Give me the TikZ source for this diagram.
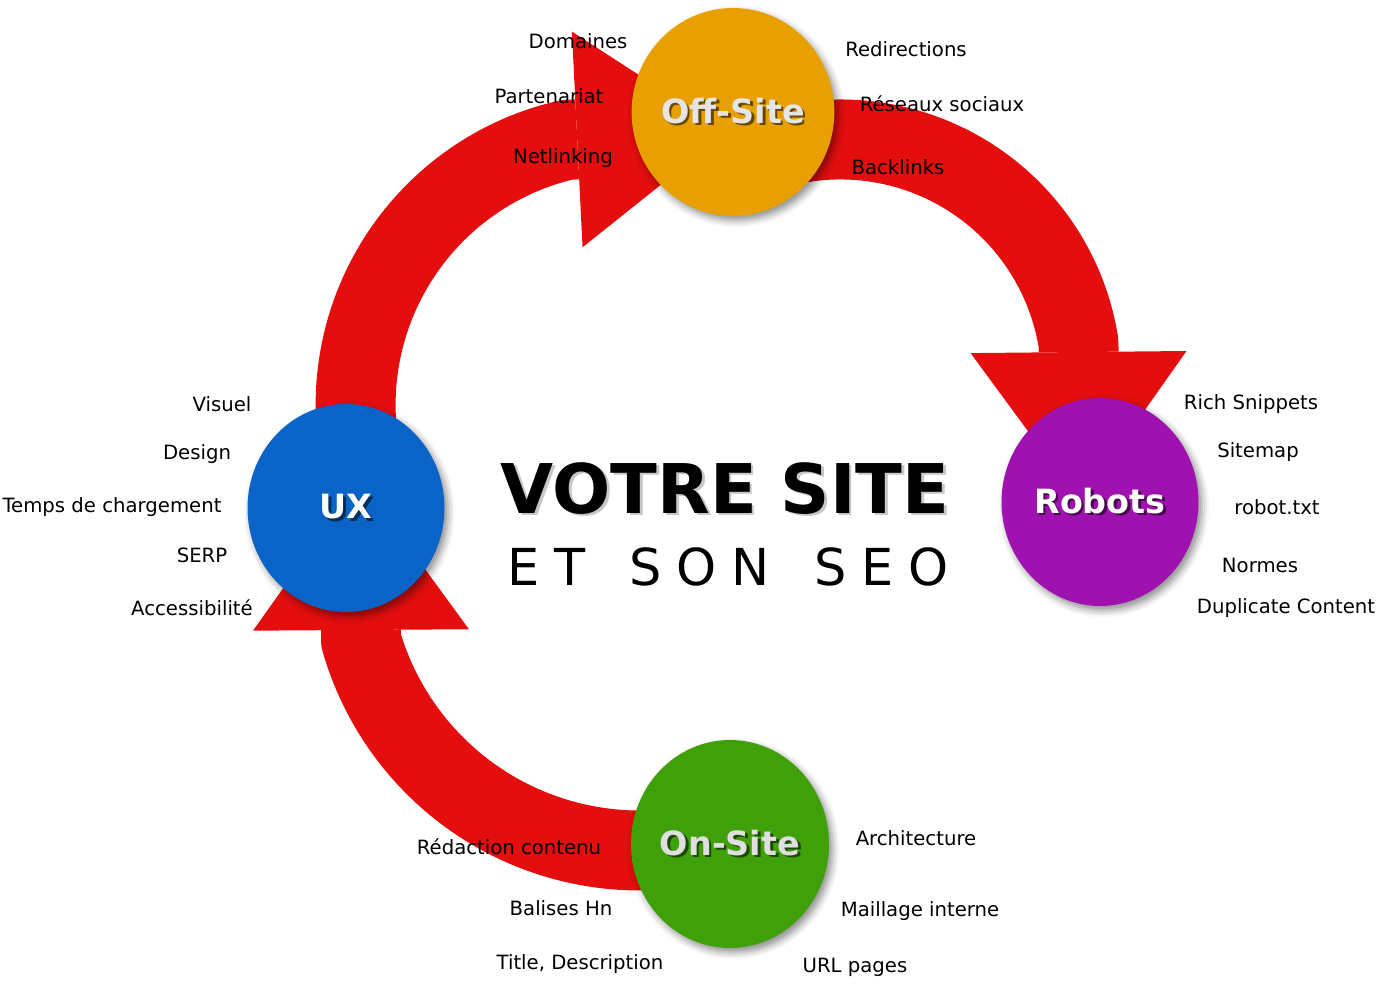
\documentclass[tikz,border=0pt]{standalone}
\usepackage{fontspec}
\setmainfont{DejaVu Sans}
\usepackage{tikz}
\usetikzlibrary{arrows.meta, positioning, shapes.geometric, shadows.blur, backgrounds}

\definecolor{bandred}{HTML}{E50E0E}
\definecolor{offC}{HTML}{E8A000}
\definecolor{uxC}{HTML}{0A64C8}
\definecolor{robC}{HTML}{A012B0}
\definecolor{onC}{HTML}{40A00A}

\newcommand{\dropped}[2]{\makebox[0pt][l]{\kern1.5pt\raisebox{-1.5pt}{\textcolor{#1}{#2}}}#2}

\begin{document}
\begin{tikzpicture}[
    x=0.02cm, y=-0.02cm,
    band/.style={
        draw=bandred,
        line width=1.6cm,
        line join=round,
        -{Triangle[length=3cm, width=4.32cm, line width=0pt]}
    },
    hub/.style={
        ellipse,
        minimum width=3.94cm,
        minimum height=4.16cm,
        inner sep=0pt,
        font=\fontsize{19}{23}\selectfont\bfseries,
        blur shadow={shadow xshift=2pt, shadow yshift=-2.5pt, shadow blur radius=4pt, shadow opacity=45}
    },
    tag/.style={
        anchor=base,
        inner sep=0pt,
        font=\fontsize{11.2}{13}\selectfont
    }
]

    \useasboundingbox (0,0) rectangle (1394,990);

    \node [hub, fill=offC, text=gray!20] (offsite) at (733,112) {\dropped{offC!45!black}{Off-Site}};
    \node [hub, fill=robC, text=white] (robots) at (1100,502) {\dropped{robC!45!black}{Robots}};
    \node [hub, fill=uxC, text=white] (ux) at (346,508) {\dropped{uxC!45!black}{UX}};
    \node [hub, fill=onC, text=gray!25] (onsite) at (730,844) {\dropped{onC!45!black}{On-Site}};

    \coordinate (tipB) at (727,132);
    \coordinate (tipC) at (1080,502);
    \coordinate (tipA) at (360,480);

    \begin{scope}[on background layer]
        \draw [band] (ux.center) ++(26,-10) arc[start angle=160, end angle=257, radius=272] -- (tipB);
        \draw [band] (offsite.center) ++(25,42) arc[start angle=250, end angle=351, radius=241] -- (tipC);
        \draw [band] (onsite.center) ++(9,-11) arc[start angle=70, end angle=164, radius=290] -- (tipA);
    \end{scope}

    \node [anchor=base, inner sep=0pt, font=\fontsize{39}{44}\selectfont\bfseries] (votre) at (725,513) {\dropped{black!22}{VOTRE SITE}};
    \node [anchor=base, inner sep=0pt, font=\fontsize{29}{33}\selectfont] (seo) at (728,585)
        {E\kern8.5pt T\kern25pt S\kern8.5pt O\kern8.5pt N\kern25pt S\kern8.5pt E\kern8.5pt O};

    \node [tag] (domaines) at (578,49) {Domaines};
    \node [tag] (partenariat) at (549,104) {Partenariat};
    \node [tag] (netlinking) at (563,164) {Netlinking};
    \node [tag] (redirections) at (906,57) {Redirections};
    \node [tag] (reseaux) at (942,112) {Réseaux sociaux};
    \node [tag] (backlinks) at (898,174) {Backlinks};

    \node [tag] (snippets) at (1251,409) {Rich Snippets};
    \node [tag] (sitemap) at (1258,457) {Sitemap};
    \node [tag] (robottxt) at (1277,514) {robot.txt};
    \node [tag] (normes) at (1260,572) {Normes};
    \node [tag] (duplicate) at (1286,613) {Duplicate Content};

    \node [tag] (visuel) at (222,411) {Visuel};
    \node [tag] (design) at (197,459) {Design};
    \node [tag] (temps) at (112,512) {Temps de chargement};
    \node [tag] (serp) at (202,562) {SERP};
    \node [tag] (access) at (192,615) {Accessibilité};

    \node [tag] (redaction) at (509,854) {Rédaction contenu};
    \node [tag] (balises) at (561,915) {Balises Hn};
    \node [tag] (title) at (580,969) {Title, Description};
    \node [tag] (archi) at (916,845) {Architecture};
    \node [tag] (maillage) at (920,916) {Maillage interne};
    \node [tag] (urlpages) at (855,972) {URL pages};

\end{tikzpicture}
\end{document}
